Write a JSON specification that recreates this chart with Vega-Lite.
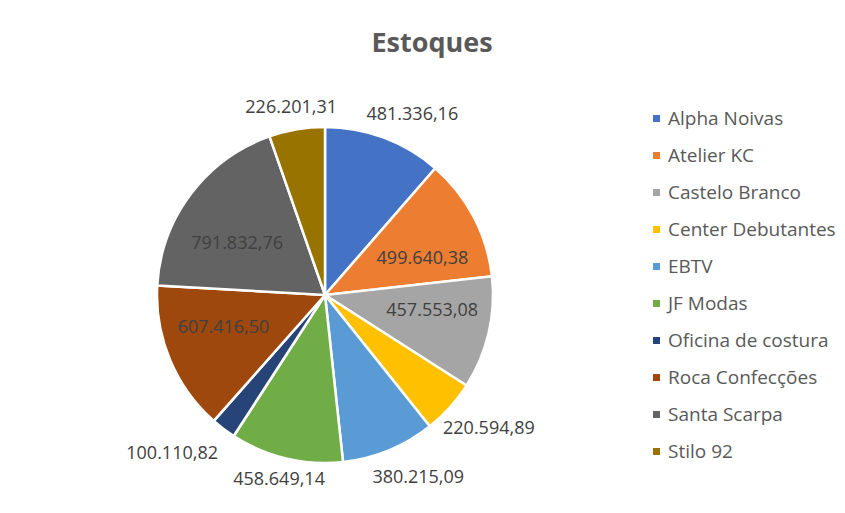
{
  "$schema": "https://vega.github.io/schema/vega-lite/v6.json",
  "autosize": "none",
  "width": 400,
  "height": 400,
  "padding": {"left": 125, "top": 95, "right": 320, "bottom": 18},
  "background": "white",
  "config": {"view": {"stroke": null}, "font": "Open Sans"},
  "title": {
    "text": "Estoques",
    "fontSize": 27,
    "fontWeight": "bold",
    "font": "Open Sans",
    "color": "#595959",
    "anchor": "middle",
    "dx": 107,
    "offset": 31
  },
  "data": {
    "values": [
      {"loja": "Alpha Noivas", "valor": 481336.16, "rotulo": "481.336,16"},
      {"loja": "Atelier KC", "valor": 499640.38, "rotulo": "499.640,38"},
      {"loja": "Castelo Branco", "valor": 457553.08, "rotulo": "457.553,08"},
      {"loja": "Center Debutantes", "valor": 220594.89, "rotulo": "220.594,89"},
      {"loja": "EBTV", "valor": 380215.09, "rotulo": "380.215,09"},
      {"loja": "JF Modas", "valor": 458649.14, "rotulo": "458.649,14"},
      {"loja": "Oficina de costura", "valor": 100110.82, "rotulo": "100.110,82"},
      {"loja": "Roca Confecções", "valor": 607416.50, "rotulo": "607.416,50"},
      {"loja": "Santa Scarpa", "valor": 791832.76, "rotulo": "791.832,76"},
      {"loja": "Stilo 92", "valor": 226201.31, "rotulo": "226.201,31"}
    ]
  },
  "encoding": {
    "theta": {"field": "valor", "type": "quantitative", "stack": true},
    "order": {"field": "loja", "sort": "ascending"},
    "color": {
      "field": "loja",
      "type": "nominal",
      "sort": ["Alpha Noivas", "Atelier KC", "Castelo Branco", "Center Debutantes", "EBTV", "JF Modas", "Oficina de costura", "Roca Confecções", "Santa Scarpa", "Stilo 92"],
      "scale": {
        "domain": ["Alpha Noivas", "Atelier KC", "Castelo Branco", "Center Debutantes", "EBTV", "JF Modas", "Oficina de costura", "Roca Confecções", "Santa Scarpa", "Stilo 92"],
        "range": ["#4472C4", "#ED7D31", "#A5A5A5", "#FFC000", "#5B9BD5", "#70AD47", "#264478", "#9E480E", "#636363", "#997300"]
      },
      "legend": {
        "title": null,
        "orient": "right",
        "offset": 108,
        "padding": 14,
        "symbolType": "square",
        "symbolSize": 49,
        "symbolStrokeWidth": 0,
        "labelFontSize": 19,
        "labelFont": "Open Sans",
        "labelColor": "#595959",
        "labelOffset": 2,
        "rowPadding": 17,
        "labelLimit": 250
      }
    }
  },
  "layer": [
    {
      "mark": {"type": "arc", "outerRadius": 168, "stroke": "white", "strokeWidth": 2.5}
    },
    {
      "mark": {"type": "text", "radius": 110, "dy": 15, "fontSize": 18, "font": "Open Sans"},
      "encoding": {
        "text": {"field": "rotulo"},
        "color": {"value": "#404040"},
        "opacity": {"condition": {"test": "indexof(['Atelier KC','Santa Scarpa'], datum.loja) >= 0", "value": 1}, "value": 0}
      }
    },
    {
      "mark": {"type": "text", "radius": 110, "dy": -9, "fontSize": 18, "font": "Open Sans"},
      "encoding": {
        "text": {"field": "rotulo"},
        "color": {"value": "#404040"},
        "opacity": {"condition": {"test": "indexof(['Castelo Branco','Roca Confecções'], datum.loja) >= 0", "value": 1}, "value": 0}
      }
    },
    {
      "mark": {"type": "text", "radius": 195, "dx": 19, "dy": 3, "fontSize": 18, "font": "Open Sans"},
      "encoding": {
        "text": {"field": "rotulo"},
        "color": {"value": "#404040"},
        "opacity": {"condition": {"test": "indexof(['Alpha Noivas','Center Debutantes','EBTV'], datum.loja) >= 0", "value": 1}, "value": 0}
      }
    },
    {
      "mark": {"type": "text", "radius": 190, "dx": -2, "fontSize": 18, "font": "Open Sans"},
      "encoding": {
        "text": {"field": "rotulo"},
        "color": {"value": "#404040"},
        "opacity": {"condition": {"test": "indexof(['Stilo 92','JF Modas'], datum.loja) >= 0", "value": 1}, "value": 0}
      }
    },
    {
      "mark": {"type": "text", "radius": 200, "dx": -32, "fontSize": 18, "font": "Open Sans"},
      "encoding": {
        "text": {"field": "rotulo"},
        "color": {"value": "#404040"},
        "opacity": {"condition": {"test": "datum.loja == 'Oficina de costura'", "value": 1}, "value": 0}
      }
    }
  ]
}
